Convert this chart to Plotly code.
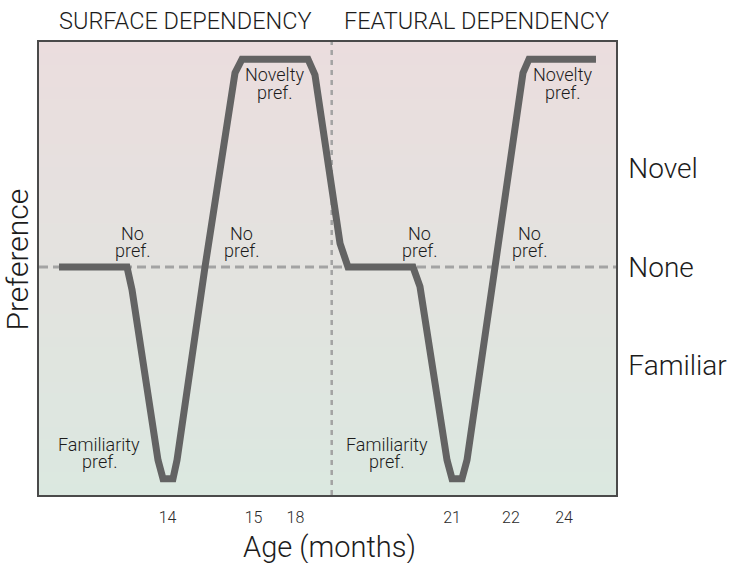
import plotly.graph_objects as go

# ---- data (x = position along the age axis, 0-100; y = preference, 0 = none) ----
curve_x = [3.47, 15.25, 16.12, 20.62, 21.49, 23.22, 23.92, 28.77, 33.97, 35.18, 46.62,
           47.83, 52.17, 53.55, 64.82, 66.03, 70.71, 71.58, 73.31, 74.18, 79.03, 83.88,
           84.92, 96.53]
curve_y = [0, 0, -0.23, -1.96, -2.15, -2.15, -1.96, 0, 1.97, 2.11, 2.11,
           1.95, 0.24, 0, 0, -0.2, -1.96, -2.15, -2.15, -1.96, 0, 1.97,
           2.11, 2.11]

age_tick_pos = [22.27, 37.18, 44.45, 71.58, 81.80, 90.99]
age_tick_text = ["14", "15", "18", "21", "22", "24"]

pref_tick_pos = [1, 0, -1]
pref_tick_text = ["Novel", "None", "Familiar"]

divider_x = 50.73
section_titles = ["SURFACE DEPENDENCY", "FEATURAL DEPENDENCY"]
section_title_x = [0.254, 0.758]

label_lines = [["No", "pref."], ["No", "pref."], ["Novelty", "pref."], ["Familiarity", "pref."],
               ["No", "pref."], ["No", "pref."], ["Novelty", "pref."], ["Familiarity", "pref."]]
label_x = [16.12, 35.13, 40.90, 10.45, 65.86, 84.97, 90.76, 60.26]
label_y = [0.34, 0.34, 1.95, -1.80, 0.34, 0.34, 1.95, -1.80]
line_gap = 0.175

X_RANGE = [0, 100]
Y_RANGE = [-2.315, 2.284]

FONT = "Roboto, 'Liberation Sans', Arial, sans-serif"
TXT = "#1c1c1c"

fig = go.Figure()

# background gradient (pink top -> green bottom)
top_c = (235, 221, 222)
bot_c = (219, 232, 224)
n = 40
shapes = []
for i in range(n):
    t = (i + 0.5) / n
    c = tuple(round(bot_c[k] + (top_c[k] - bot_c[k]) * t) for k in range(3))
    shapes.append(dict(type="rect", xref="x domain", yref="y domain",
                       x0=0, x1=1, y0=i / n, y1=min(1, (i + 1.6) / n),
                       fillcolor="rgb(%d,%d,%d)" % c, line=dict(width=0), layer="below"))
# reference lines
shapes.append(dict(type="line", xref="x domain", yref="y", x0=0, x1=1, y0=0, y1=0,
                   line=dict(color="#a3a3a3", width=3, dash="9px,5px"), layer="below"))
shapes.append(dict(type="line", xref="x", yref="y domain", x0=divider_x, x1=divider_x, y0=0, y1=1,
                   line=dict(color="#a3a3a3", width=2.5, dash="5px,5px"), layer="below"))

fig.add_trace(go.Scatter(x=curve_x, y=curve_y, mode="lines",
                         line=dict(color="#636363", width=7), hoverinfo="skip",
                         showlegend=False))

annotations = []
for lines, lx, ly in zip(label_lines, label_x, label_y):
    for j, s in enumerate(lines):
        annotations.append(dict(x=lx, y=ly - j * line_gap, xref="x", yref="y", text=s,
                                showarrow=False, xanchor="center", yanchor="middle",
                                font=dict(family=FONT, size=18, color=TXT, weight=300)))
for t, tx in zip(section_titles, section_title_x):
    annotations.append(dict(x=tx, y=1, xref="paper", yref="paper", text=t, showarrow=False,
                            xanchor="center", yanchor="middle", yshift=21,
                            font=dict(family=FONT, size=23.5, color=TXT, weight=300)))
annotations.append(dict(x=0, y=0.5, xref="paper", yref="paper", text="Preference",
                        showarrow=False, textangle=-90, xanchor="center", yanchor="middle",
                        xshift=-22, yshift=9,
                        font=dict(family=FONT, size=30, color=TXT, weight=300)))
annotations.append(dict(x=0.504, y=0, xref="paper", yref="paper", text="Age (months)",
                        showarrow=False, xanchor="center", yanchor="middle", yshift=-52,
                        font=dict(family=FONT, size=29, color=TXT, weight=300)))

fig.update_layout(
    width=738, height=563,
    margin=dict(l=39, r=122, t=42, b=68, autoexpand=False),
    paper_bgcolor="white", plot_bgcolor="rgba(0,0,0,0)",
    shapes=shapes, annotations=annotations, showlegend=False,
    xaxis=dict(range=X_RANGE, tickvals=age_tick_pos, ticktext=age_tick_text,
               showgrid=False, zeroline=False, ticks="", ticklabelstandoff=7,
               automargin=False,
               showline=True, mirror=True, linecolor="#4a4a4a", linewidth=1.5,
               tickfont=dict(family=FONT, size=16, color="#2a2a2a", weight=300)),
    yaxis=dict(range=Y_RANGE, tickvals=pref_tick_pos, ticktext=pref_tick_text, side="right",
               showgrid=False, zeroline=False, ticks="", ticklabelstandoff=5,
               automargin=False,
               showline=True, mirror=True, linecolor="#4a4a4a", linewidth=1.5,
               tickfont=dict(family=FONT, size=28, color=TXT, weight=300)),
)

fig.write_html("out.html", config={"displayModeBar": False},
               post_script="document.body.style.margin='0';")
